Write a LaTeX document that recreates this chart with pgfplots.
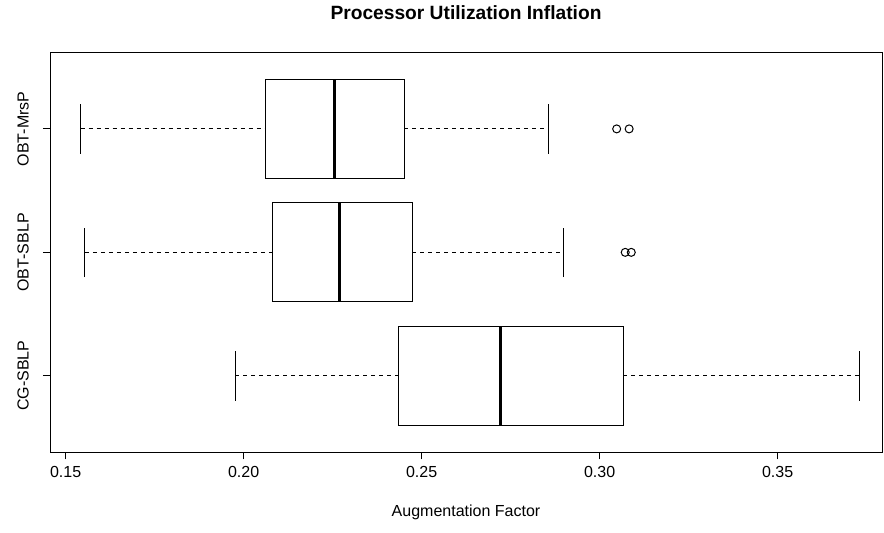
\documentclass[border=0pt]{standalone}
\usepackage{fontspec}
\setmainfont{Liberation Sans}
\usepackage{pgfplots}
\pgfplotsset{compat=1.18}
\usepgfplotslibrary{statistics}
\begin{document}
\fontsize{16bp}{19bp}\selectfont
\begin{tikzpicture}
\path (0bp,0bp) rectangle (884bp,532bp);
\begin{axis}[
  at={(50bp,80bp)}, anchor=south west,
  scale only axis, width=832bp, height=400bp,
  xmin=0.14562, xmax=0.37933,
  ymin=0.38, ymax=3.62,
  clip=false,
  xtick={0.15,0.20,0.25,0.30,0.35},
  xticklabels={0.15,0.20,0.25,0.30,0.35},
  ytick={1,2,3}, yticklabels={CG-SBLP,OBT-SBLP,OBT-MrsP},
  tick align=outside, xtick pos=bottom, ytick pos=left,
  major tick length=7bp,
  tick style={black, line width=1bp},
  axis line style={line width=1bp},
  /pgf/number format/assume math mode=true,
  ticklabel style={font=\fontsize{16bp}{19bp}\selectfont},
  xticklabel style={anchor=center, yshift=-13bp},
  yticklabel style={xshift=-20bp, rotate=90, anchor=center},
  title={Processor Utilization Inflation},
  title style={at={(axis description cs:0.5,1)}, anchor=center, yshift=34bp, font=\bfseries\fontsize{19.2bp}{23bp}\selectfont},
  xlabel={Augmentation Factor},
  xlabel style={at={(axis description cs:0.5,0)}, anchor=center, yshift=-60bp, font=\fontsize{16bp}{19bp}\selectfont},
  boxplot/every median/.style={line width=3bp},
  boxplot/draw/lower whisker/.code={%
    \draw[dash pattern=on 4bp off 4bp] (boxplot box cs:\pgfplotsboxplotvalue{lower whisker},0.5) -- (boxplot box cs:\pgfplotsboxplotvalue{lower quartile},0.5);
    \draw (boxplot whisker cs:\pgfplotsboxplotvalue{lower whisker},0) -- (boxplot whisker cs:\pgfplotsboxplotvalue{lower whisker},1);
  },
  boxplot/draw/upper whisker/.code={%
    \draw[dash pattern=on 4bp off 4bp] (boxplot box cs:\pgfplotsboxplotvalue{upper quartile},0.5) -- (boxplot box cs:\pgfplotsboxplotvalue{upper whisker},0.5);
    \draw (boxplot whisker cs:\pgfplotsboxplotvalue{upper whisker},0) -- (boxplot whisker cs:\pgfplotsboxplotvalue{upper whisker},1);
  },
]
% CG-SBLP
\addplot[black, line width=1bp, mark=o, mark size=4bp, mark options={solid, line width=1bp},
  boxplot prepared={draw position=1, lower whisker=0.1976, lower quartile=0.2435, median=0.2722, upper quartile=0.3067, upper whisker=0.3731, box extend=0.8, whisker extend=0.4}]
  coordinates {};
% OBT-SBLP
\addplot[black, line width=1bp, mark=o, mark size=4bp, mark options={solid, line width=1bp},
  boxplot prepared={draw position=2, lower whisker=0.1554, lower quartile=0.2080, median=0.2269, upper quartile=0.2474, upper whisker=0.2898, box extend=0.8, whisker extend=0.4}]
  coordinates {(0,0.3072) (0,0.3089)};
% OBT-MrsP
\addplot[black, line width=1bp, mark=o, mark size=4bp, mark options={solid, line width=1bp},
  boxplot prepared={draw position=3, lower whisker=0.1542, lower quartile=0.2062, median=0.2254, upper quartile=0.2451, upper whisker=0.2857, box extend=0.8, whisker extend=0.4}]
  coordinates {(0,0.3048) (0,0.3083)};
\end{axis}
\end{tikzpicture}
\end{document}
